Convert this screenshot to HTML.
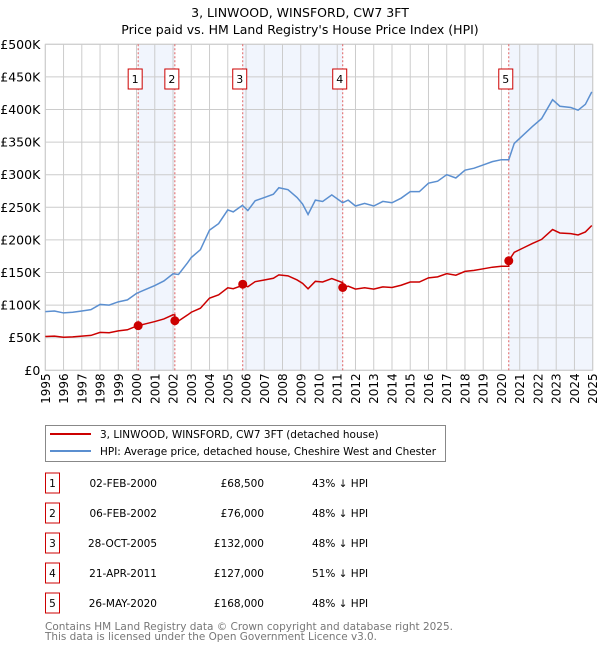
<!DOCTYPE html>
<html><head><meta charset="utf-8"><style>
body{margin:0;background:#fff;font-family:"DejaVu Sans","Liberation Sans",sans-serif;}
svg text{font-family:"DejaVu Sans","Liberation Sans",sans-serif;}
</style></head><body>
<svg id="chart" width="600" height="650" xmlns="http://www.w3.org/2000/svg">
<text x="300" y="17" text-anchor="middle" font-size="12.5">3, LINWOOD, WINSFORD, CW7 3FT</text>
<text x="300" y="34" text-anchor="middle" font-size="12.5">Price paid vs. HM Land Registry's House Price Index (HPI)</text>
<g id="plot"></g>
<g>
<rect x="45.5" y="425.5" width="400" height="36" fill="#fff" stroke="#888"/>
<line x1="50" y1="434" x2="91" y2="434" stroke="#cc0000" stroke-width="2"/>
<text x="100" y="438" font-size="10.5">3, LINWOOD, WINSFORD, CW7 3FT (detached house)</text>
<line x1="50" y1="451" x2="91" y2="451" stroke="#5b8fd0" stroke-width="2"/>
<text x="100" y="455" font-size="10.5" textLength="336" lengthAdjust="spacingAndGlyphs">HPI: Average price, detached house, Cheshire West and Chester</text>
</g>
<g id="table"></g>
<text x="45" y="630" font-size="10.5" fill="#777" textLength="408" lengthAdjust="spacingAndGlyphs">Contains HM Land Registry data © Crown copyright and database right 2025.</text>
<text x="45" y="640" font-size="10.5" fill="#777" textLength="332" lengthAdjust="spacingAndGlyphs">This data is licensed under the Open Government Licence v3.0.</text>
</svg>
<script>
const hpiYears=[1995,1995.5,1996,1996.5,1997,1997.5,1998,1998.5,1999,1999.5,2000,2000.5,2001,2001.5,2002,2002.3,2002.8,2003,2003.5,2004,2004.5,2005,2005.3,2005.8,2006.1,2006.5,2007,2007.5,2007.8,2008.3,2008.8,2009.1,2009.4,2009.8,2010.2,2010.7,2011.3,2011.6,2012,2012.5,2013,2013.5,2014,2014.5,2015,2015.5,2016,2016.5,2017,2017.5,2018,2018.5,2019,2019.5,2020,2020.4,2020.7,2021.2,2021.7,2022.2,2022.8,2023.2,2023.8,2024.2,2024.6,2024.95];
const hpiValues=[90,91,88,89,91,93,101,100,105,108,118,124,130,137,148,147,165,173,185,215,225,246,243,253,245,260,265,270,280,277,265,255,239,261,259,269,257,261,252,256,252,259,257,264,274,274,287,290,300,295,307,310,315,320,323,323,348,361,374,386,415,405,403,399,408,427];
const saleDates=[2000.09,2002.1,2005.82,2011.3,2020.4];
const salePrices=[68500,76000,132000,127000,168000];
const saleLabels=["1","2","3","4","5"];
const saleDateText=["02-FEB-2000","06-FEB-2002","28-OCT-2005","21-APR-2011","26-MAY-2020"];
const salePriceText=["£68,500","£76,000","£132,000","£127,000","£168,000"];
const salePctText=["43% ↓ HPI","48% ↓ HPI","48% ↓ HPI","51% ↓ HPI","48% ↓ HPI"];
const yTicks=[0,50,100,150,200,250,300,350,400,450,500];
const yTickLabels=["£0","£50K","£100K","£150K","£200K","£250K","£300K","£350K","£400K","£450K","£500K"];
const xTicks=[1995,1996,1997,1998,1999,2000,2001,2002,2003,2004,2005,2006,2007,2008,2009,2010,2011,2012,2013,2014,2015,2016,2017,2018,2019,2020,2021,2022,2023,2024,2025];

const NS="http://www.w3.org/2000/svg";
const X0=45.3,X1=592.7,Y0=370.3,Y1=44.3;
const xs=y=>X0+(y-1995)/30*(X1-X0);
const ys=v=>Y0-v/500*(Y0-Y1);
function mk(tag,attrs,parent,txt){const e=document.createElementNS(NS,tag);for(const k in attrs)e.setAttribute(k,attrs[k]);if(txt!==undefined)e.textContent=txt;parent.appendChild(e);return e;}
function hpiAt(t){if(t<=hpiYears[0])return hpiValues[0];for(let i=1;i<hpiYears.length;i++){if(t<=hpiYears[i]){const f=(t-hpiYears[i-1])/(hpiYears[i]-hpiYears[i-1]);return hpiValues[i-1]+f*(hpiValues[i]-hpiValues[i-1]);}}return hpiValues[hpiValues.length-1];}
const plot=document.getElementById('plot');
const shadePairs=[[saleDates[0],saleDates[1]],[saleDates[2],saleDates[3]],[saleDates[4],2025]];
shadePairs.forEach(p=>{const r=mk('rect',{x:xs(p[0]),y:Y1,width:xs(p[1])-xs(p[0]),height:Y0-Y1,fill:'#eef3fc',opacity:0.8},plot);

});
xTicks.forEach((t,i)=>{const l=mk('line',{x1:xs(t),x2:xs(t),y1:Y1,y2:Y0,stroke:'#cccccc','stroke-width':1},plot);


const px=xs(t)+4.5,py=Y0+3;
const tx=mk('text',{x:px,y:py,'font-size':12,'text-anchor':'end',transform:`rotate(-90 ${px} ${py})`},plot,String(t));

});
yTicks.forEach((v,i)=>{const l=mk('line',{x1:X0,x2:X1,y1:ys(v),y2:ys(v),stroke:'#cccccc','stroke-width':1},plot);


const tx=mk('text',{x:X0-5,y:ys(v)+4.5,'font-size':12.5,'text-anchor':'end'},plot,yTickLabels[i]);

});
mk('rect',{x:X0,y:Y1,width:X1-X0,height:Y0-Y1,fill:'none',stroke:'#cccccc'},plot);
saleDates.forEach((d,i)=>{const l=mk('line',{x1:xs(d),x2:xs(d),y1:Y1,y2:Y0,stroke:'#e06060','stroke-width':1,'stroke-dasharray':'2,2'},plot);


const b=mk('rect',{x:xs(d)-10,y:69,width:14,height:20,fill:'#fff',stroke:'#cc0000'},plot);


mk('text',{x:xs(d)-3,y:83,'font-size':11,'text-anchor':'middle'},plot,saleLabels[i]);});
const hp=mk('polyline',{points:hpiYears.map((t,i)=>xs(t)+','+ys(hpiValues[i])).join(' '),fill:'none',stroke:'#5b8fd0','stroke-width':1.5},plot);


const tgrid=[...hpiYears,...saleDates].sort((a,b)=>a-b);
function segIdx(t){let k=0;for(let i=0;i<saleDates.length;i++)if(t>=saleDates[i])k=i;return k;}
const pts2=[];
tgrid.forEach(t=>{const k=segIdx(t);const idx=saleDates.indexOf(t);if(idx>0){pts2.push(xs(t)+','+ys(salePrices[idx-1]/1000*hpiAt(t)/hpiAt(saleDates[idx-1])));}pts2.push(xs(t)+','+ys(salePrices[k]/1000*hpiAt(t)/hpiAt(saleDates[k])));});
const rl=mk('polyline',{points:pts2.join(' '),fill:'none',stroke:'#cc0000','stroke-width':1.5},plot);


saleDates.forEach((d,i)=>{const c=mk('circle',{cx:xs(d),cy:ys(salePrices[i]/1000),r:4.5,fill:'#cc0000'},plot);

});
const tb=document.getElementById('table');
saleLabels.forEach((s,i)=>{const cy=483+i*30;
const b=mk('rect',{x:45.5,y:cy-10,width:14,height:20,fill:'#fff',stroke:'#cc0000'},tb);


mk('text',{x:52.5,y:cy+4,'font-size':10.5,'text-anchor':'middle'},tb,s);
const a=mk('text',{x:157,y:cy+4,'font-size':10.5,'text-anchor':'end'},tb,saleDateText[i]);


const p=mk('text',{x:264,y:cy+4,'font-size':10.5,'text-anchor':'end'},tb,salePriceText[i]);


const q=mk('text',{x:312,y:cy+4,'font-size':10.5},tb,salePctText[i]);

});
</script>
</body></html>
